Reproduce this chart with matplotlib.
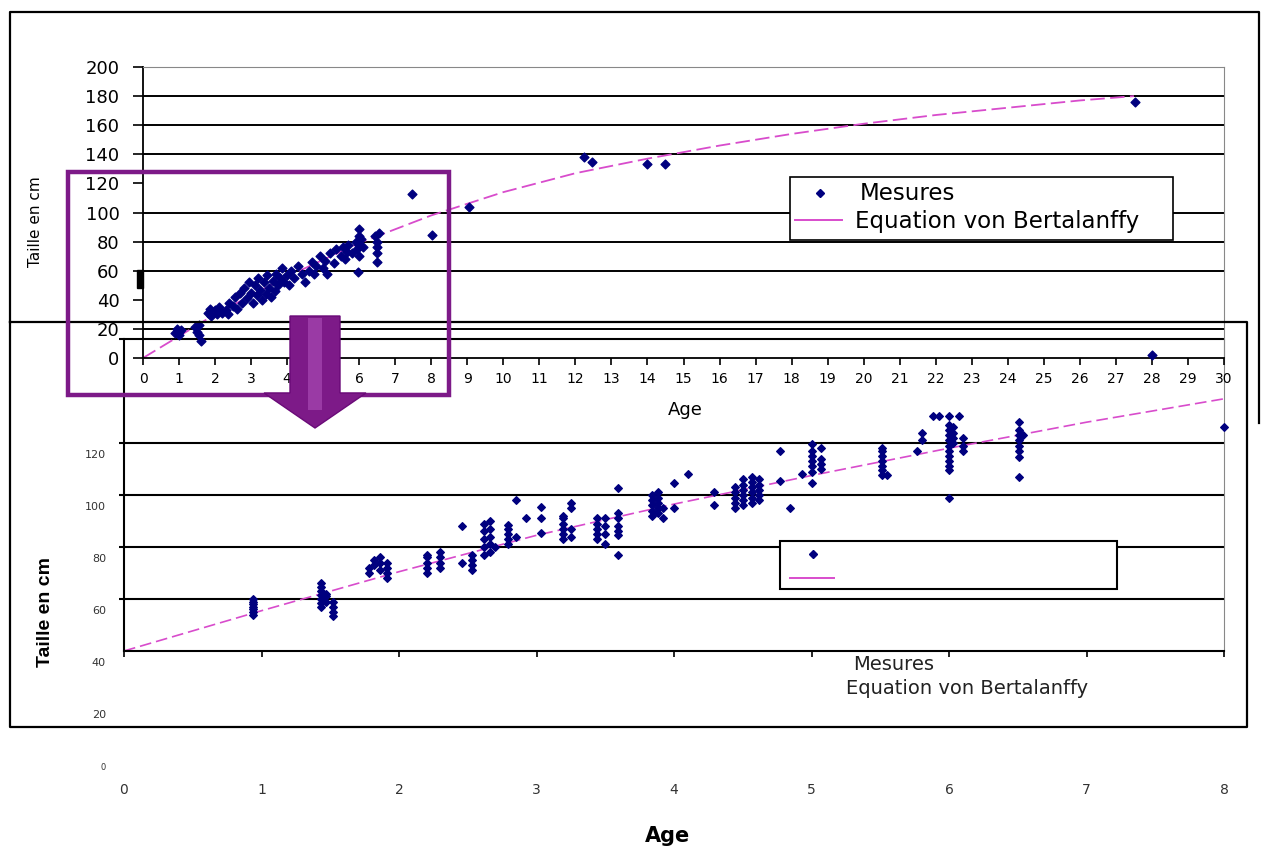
import matplotlib
matplotlib.use("Agg")
import matplotlib.pyplot as plt
from matplotlib.patches import Rectangle, Polygon
from matplotlib.lines import Line2D
from matplotlib.transforms import ScaledTranslation

W, H = 1261, 849

# --- chart 1 : all ages (0-30 years) ---
haut_age = [0.9, 0.95, 1.0, 1.05, 1.0,
            1.45, 1.5, 1.55, 1.6, 1.55,
            1.8, 1.85, 1.9, 2.0, 2.05, 2.1, 2.2, 2.3, 2.35,
            2.4, 2.5, 2.55, 2.6, 2.7, 2.75, 2.8, 2.9, 2.95,
            3.0, 3.05, 3.1, 3.15, 3.2, 3.25, 3.3, 3.35, 3.4, 3.45, 3.5, 3.55, 3.6, 3.65,
            3.7, 3.75, 3.8, 3.85, 3.9, 4.0, 4.05, 4.1, 4.2, 4.3, 4.4, 4.5,
            4.6, 4.7, 4.75, 4.8, 4.9, 5.0, 5.05, 5.1, 5.2, 5.3, 5.35,
            5.5, 5.55, 5.6, 5.65, 5.7, 5.8, 5.9, 5.95, 6.0, 6.0, 6.0, 6.0, 6.05, 6.1, 5.97,
            6.45, 6.5, 6.5, 6.5, 6.55, 6.5,
            7.47, 8.02, 9.05, 12.24, 12.46, 13.99, 14.49, 27.53, 28.0]
haut_taille = [17, 20, 16, 19, 18,
               21, 18, 16, 12, 23,
               31, 34, 29, 33, 30, 35, 31, 33, 30,
               38, 36, 42, 34, 45, 38, 48, 41, 52,
               45, 38, 50, 43, 55, 47, 40, 52, 44, 57, 48, 42, 53, 46,
               58, 50, 55, 62, 52, 57, 50, 60, 55, 63, 58, 52,
               60, 66, 58, 63, 70, 62, 67, 58, 72, 65, 75,
               70, 76, 68, 73, 78, 72, 80, 75, 89, 84, 78, 70, 82, 76, 59,
               84, 80, 76, 72, 86, 66,
               113, 84.5, 104, 138, 135, 133, 133, 176, 2]
courbe_haut_age = [0, 1, 2, 4, 6, 8, 10, 12, 14, 16, 18, 20, 22, 24, 26, 27.5]
courbe_haut_taille = [0, 15, 30, 56, 79, 98, 114, 127, 137, 146, 154, 161, 167, 172, 177, 180]

# --- chart 2 : zoom on 0-8 years ---
groupes_bas = [
    (0.94, [54, 55, 56, 57, 58, 59, 60]),
    (1.43, [57, 58.5, 60, 61.5, 63, 64.5, 66]),
    (1.47, [59, 61, 62]),
    (1.52, [59, 57, 55, 53.5]),
    (1.78, [70, 72]),
    (1.82, [73, 75]),
    (1.86, [71, 74, 76]),
    (1.91, [68, 70, 72, 74]),
    (2.2, [70, 72, 74, 76, 77]),
    (2.3, [72, 74, 76, 78]),
    (2.46, [88, 74]),
    (2.53, [71, 73, 75, 77]),
    (2.62, [89, 77, 80, 83, 86]),
    (2.66, [78, 81, 84, 87, 90]),
    (2.7, [80]),
    (2.79, [81, 83, 85, 87, 88.5]),
    (2.85, [98, 84]),
    (2.92, [91]),
    (3.03, [95.5, 91, 85.5]),
    (3.19, [83, 85, 87, 89, 91, 92]),
    (3.25, [97, 95, 87, 84]),
    (3.44, [83, 85, 87, 89, 91]),
    (3.5, [81, 85, 88, 91]),
    (3.59, [102.5, 93, 91, 88, 86, 84.5, 77]),
    (3.84, [92, 94, 96, 98, 100]),
    (3.88, [93, 95, 97, 99, 101]),
    (3.92, [91, 95]),
    (4.0, [95, 104.5]),
    (4.1, [108]),
    (4.29, [101, 96]),
    (4.44, [95, 97, 99, 101, 103]),
    (4.5, [96, 98, 100, 102, 104, 106]),
    (4.57, [97, 99, 101, 103, 105, 107]),
    (4.62, [98, 100, 102, 104, 106]),
    (4.77, [117, 105.5]),
    (4.84, [95]),
    (4.93, [108]),
    (5.0, [104.5, 109, 111, 113, 115, 117, 119.5]),
    (5.07, [110, 112, 114, 118]),
    (5.51, [109.5, 111, 113, 115, 117, 118, 107.5]),
    (5.55, [107.5]),
    (5.77, [117]),
    (5.8, [124, 121]),
    (5.88, [130.5]),
    (5.93, [130.5]),
    (6.07, [130.5]),
    (6.0, [99, 109.5, 111, 113, 115, 117, 119, 121, 123, 125, 127, 130.5]),
    (6.03, [120, 122, 124, 126]),
    (6.1, [117, 119, 122]),
    (6.51, [107, 114.5, 117, 119, 121, 123, 125, 128]),
    (6.54, [123]),
    (8.0, [126]),
]
bas_age = [a for a, vals in groupes_bas for v in vals]
bas_taille = [v for a, vals in groupes_bas for v in vals]
courbe_bas_age = [0, 1, 2, 3, 4, 5, 6, 7, 8]
courbe_bas_taille = [40, 55.5, 70.5, 84.5, 96.5, 107.5, 118, 128, 137]

haut_xticks = list(range(0, 31))
haut_yticks = list(range(0, 201, 20))
bas_xticks = list(range(0, 9))
bas_yticks = list(range(0, 161, 20))
bas_ylabels = ["0", "20", "40", "60", "80", "100", "120", "", ""]

NAVY = "#00007f"
ROSE = "#d84ccc"
VIOLET = "#7d1a88"

plt.rcParams["font.family"] = "DejaVu Sans"

fig = plt.figure(figsize=(W / 100, H / 100), dpi=100)


def boite(x0, y0, x1, y1):
    # pixel box (top-left origin) -> figure fraction rect
    return [x0 / W, 1 - y1 / H, (x1 - x0) / W, (y1 - y0) / H]


def fxy(xs, ys):
    return [x / W for x in xs], [1 - y / H for y in ys]


# ---------- zoomed chart (behind) ----------
ax_bas = fig.add_axes(boite(124, 339, 1224, 755), zorder=1)
ax_bas.set_facecolor("none")
ax_bas.set_xlim(0, 8)
ax_bas.set_ylim(0, 160)
ax_bas.plot(courbe_bas_age, courbe_bas_taille, color=ROSE, lw=1.2,
            dashes=(7, 3), zorder=2)
ax_bas.scatter(bas_age, bas_taille, marker="D", s=15, color=NAVY,
               zorder=3, clip_on=False)
ax_bas.hlines([60, 80, 100, 120, 160], -0.04, 8, color="black", lw=1.5,
              clip_on=False, zorder=1)
ax_bas.spines["top"].set_visible(False)
ax_bas.spines["bottom"].set_position(("data", 40))
ax_bas.spines["bottom"].set_linewidth(1.5)
ax_bas.spines["left"].set_bounds(40, 160)
ax_bas.spines["left"].set_linewidth(1.5)
ax_bas.spines["right"].set_bounds(40, 160)
ax_bas.spines["right"].set_color("#888888")
ax_bas.set_xticks(bas_xticks)
ax_bas.set_xticklabels([str(t) for t in bas_xticks])
ax_bas.tick_params(axis="x", length=4, width=1.2, pad=91, labelsize=10,
                   labelcolor="#333333")
ax_bas.set_yticks(bas_yticks)
ax_bas.set_yticklabels(bas_ylabels)
ax_bas.tick_params(axis="y", length=0, pad=13, labelsize=8, labelcolor="#333333")
decal = ScaledTranslation(0, -11 / 100, fig.dpi_scale_trans)
for lab in ax_bas.get_yticklabels():
    lab.set_transform(lab.get_transform() + decal)
ax_bas.get_yticklabels()[0].set_fontsize(6)

# ---------- full-range chart (front) ----------
ax_haut = fig.add_axes(boite(143, 67, 1224, 358), zorder=2)
ax_haut.set_facecolor("none")
ax_haut.set_xlim(0, 30)
ax_haut.set_ylim(0, 200)
ax_haut.hlines([20, 60, 80, 100, 140, 160, 180], 0, 30, color="black", lw=1.4,
               zorder=1)
ax_haut.plot(courbe_haut_age, courbe_haut_taille, color=ROSE, lw=1.3,
             dashes=(8, 3), zorder=2)
ax_haut.scatter(haut_age, haut_taille, marker="D", s=20, color=NAVY,
                zorder=3, clip_on=False)
ax_haut.spines["top"].set_color("#888888")
ax_haut.spines["right"].set_color("#888888")
ax_haut.spines["left"].set_linewidth(1.3)
ax_haut.spines["bottom"].set_linewidth(1.3)
ax_haut.set_xticks(haut_xticks)
ax_haut.set_xticklabels([str(t) for t in haut_xticks])
ax_haut.tick_params(axis="x", length=5, width=1.2, pad=5, labelsize=10)
ax_haut.set_yticks(haut_yticks)
ax_haut.set_yticklabels([str(t) for t in haut_yticks])
ax_haut.tick_params(axis="y", length=7, width=1.2, pad=10, labelsize=13)

fig.text(685 / W, 1 - 410 / H, "Age", ha="center", va="center", fontsize=13)
fig.text(35 / W, 1 - 222 / H, "Taille en cm", ha="center", va="center",
         rotation=90, fontsize=11)

# legend of the full-range chart
fig.add_artist(Rectangle((790 / W, 1 - 240 / H), (1173 - 790) / W, 63 / H,
                         transform=fig.transFigure, facecolor="white",
                         edgecolor="black", lw=1.2, zorder=3))
x, y = fxy([820], [193])
fig.add_artist(Line2D(x, y, marker="D", ms=4.5, color=NAVY, lw=0,
                      transform=fig.transFigure, zorder=4))
x, y = fxy([795, 842], [220, 220])
fig.add_artist(Line2D(x, y, color=ROSE, lw=1.4, transform=fig.transFigure,
                      zorder=4))
fig.text(860 / W, 1 - 193 / H, "Mesures", va="center", fontsize=16.5, zorder=4)
fig.text(855 / W, 1 - 221 / H, "Equation von Bertalanffy", va="center",
         fontsize=16.5, zorder=4)

# ---------- zoomed chart: legend and labels ----------
fig.add_artist(Rectangle((780 / W, 1 - 589 / H), (1117 - 780) / W, 48 / H,
                         transform=fig.transFigure, facecolor="white",
                         edgecolor="black", lw=1.5, zorder=3))
x, y = fxy([813], [554])
fig.add_artist(Line2D(x, y, marker="D", ms=4, color=NAVY, lw=0,
                      transform=fig.transFigure, zorder=4))
x, y = fxy([790, 834], [578, 578])
fig.add_artist(Line2D(x, y, color=ROSE, lw=1.4, transform=fig.transFigure,
                      zorder=4))
fig.text(853 / W, 1 - 664 / H, "Mesures", va="center", fontsize=14,
         color="#222222")
fig.text(846 / W, 1 - 689 / H, "Equation von Bertalanffy", va="center",
         fontsize=14, color="#222222")
fig.text(668 / W, 1 - 836 / H, "Age", ha="center", va="center", fontsize=15,
         fontweight="bold")
fig.text(46 / W, 1 - 612 / H, "Taille en cm", ha="center", va="center",
         rotation=90, fontsize=14, fontweight="bold",
         family="Liberation Sans")

# ---------- frames ----------
x, y = fxy([10, 1247, 1247, 10, 10], [322, 322, 727, 727, 322])
fig.add_artist(Line2D(x, y, color="black", lw=1.6, transform=fig.transFigure,
                      zorder=3))
x, y = fxy([10, 10, 1259, 1259], [322, 12, 12, 423])
fig.add_artist(Line2D(x, y, color="black", lw=1.6, transform=fig.transFigure,
                      zorder=3))
fig.add_artist(Rectangle((137 / W, 1 - 288 / H), 6 / W, 18 / H,
                         transform=fig.transFigure, color="black", zorder=3))

# ---------- purple highlight box and arrow ----------
fig.add_artist(Rectangle((68 / W, 1 - 395 / H), (449 - 68) / W, (395 - 172) / H,
                         transform=fig.transFigure, fill=False,
                         edgecolor=VIOLET, lw=3.2, zorder=5))
x, y = fxy([290, 340, 340, 366, 315, 264, 290],
           [316, 316, 393, 393, 428, 393, 393])
fig.add_artist(Polygon(list(zip(x, y)), closed=True, transform=fig.transFigure,
                       facecolor=VIOLET, edgecolor="#6a0a78", lw=1, zorder=6))
x, y = fxy([308, 322, 322, 308], [318, 318, 410, 410])
fig.add_artist(Polygon(list(zip(x, y)), closed=True, transform=fig.transFigure,
                       facecolor="#9a3aa5", edgecolor="none", zorder=7))

fig.savefig("out.png", dpi=100)
